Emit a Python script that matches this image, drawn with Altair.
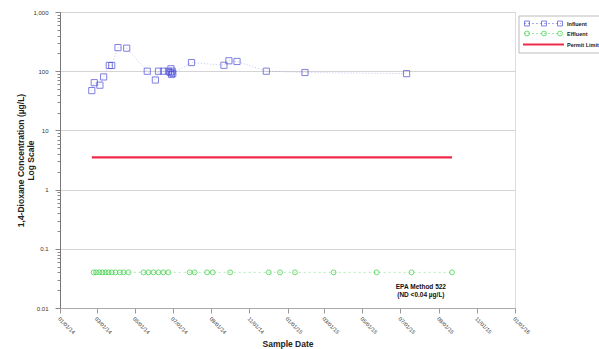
import altair as alt
import pandas as pd

# Influent 1,4-dioxane results (ug/L)
influent_dates = [
    "2014-02-21", "2014-02-25", "2014-03-06", "2014-03-12", "2014-03-21",
    "2014-03-25", "2014-04-04", "2014-04-18", "2014-05-21", "2014-06-03",
    "2014-06-08", "2014-06-16", "2014-06-24", "2014-06-27", "2014-06-28",
    "2014-06-29", "2014-06-30", "2014-07-01", "2014-07-31", "2014-09-21",
    "2014-09-29", "2014-10-12", "2014-11-28", "2015-01-29", "2015-07-11",
]
influent_values = [
    47, 64, 58, 80, 125,
    125, 250, 245, 100, 71,
    100, 100, 100, 95, 110,
    88, 100, 92, 140, 126,
    150, 146, 100, 95, 91,
]

# Effluent results, all non-detect at the method reporting limit
effluent_dates = [
    "2014-02-24", "2014-02-28", "2014-03-05", "2014-03-10", "2014-03-15",
    "2014-03-20", "2014-03-25", "2014-03-31", "2014-04-07", "2014-04-13",
    "2014-04-21", "2014-05-15", "2014-05-23", "2014-05-31", "2014-06-08",
    "2014-06-16", "2014-06-24", "2014-07-28", "2014-08-05", "2014-08-25",
    "2014-09-03", "2014-10-01", "2014-12-02", "2014-12-20", "2015-01-13",
    "2015-03-16", "2015-05-24", "2015-07-19", "2015-09-22",
]
effluent_values = [0.04] * len(effluent_dates)

# Permit limit over the sampling period
permit_dates = ["2014-02-21", "2015-09-22"]
permit_values = [3.5, 3.5]

# Axis tick positions
x_tick_dates = [
    "2014-01-01", "2014-03-01", "2014-05-01", "2014-07-01", "2014-09-01",
    "2014-11-01", "2015-01-01", "2015-03-01", "2015-05-01", "2015-07-01",
    "2015-09-01", "2015-11-01", "2016-01-01",
]
decades = [0.01, 0.1, 1, 10, 100]
y_ticks = [round(d * m, 4) for d in decades for m in range(1, 10)] + [1000]

# Annotation
note_date = ["2015-08-03"]
note_value = [0.0224]
note_text = ["EPA Method 522\n(ND <0.04 µg/L)"]

BLUE = "#4a4ad8"
GREEN = "#2fcf3a"
RED = "#ee2a4a"
FONT = "Liberation Sans"

inf_df = pd.DataFrame({"date": pd.to_datetime(influent_dates), "value": influent_values})
eff_df = pd.DataFrame({"date": pd.to_datetime(effluent_dates), "value": effluent_values})
lim_df = pd.DataFrame({"date": pd.to_datetime(permit_dates), "value": permit_values})
note_df = pd.DataFrame({"date": pd.to_datetime(note_date), "value": note_value, "t": note_text})

tick_dt = [
    alt.DateTime(year=int(s[:4]), month=int(s[5:7]), date=int(s[8:]))
    for s in x_tick_dates
]

is_decade = "abs(log(datum.value)/LN10 - round(log(datum.value)/LN10)) < 0.001"

x_enc = alt.X(
    "date:T",
    scale=alt.Scale(domain=[tick_dt[0], tick_dt[-1]]),
    axis=alt.Axis(
        values=tick_dt,
        format="%m/%d/%y",
        labelAngle=45,
        labelAlign="left",
        labelBaseline="top",
        labelFontSize=5.5,
        labelColor="#333",
        labelPadding=3,
        tickSize=5,
        tickColor="#999",
        domainColor="#aaa",
        grid=False,
        title="Sample Date",
        titleFontSize=8.5,
        titleFontWeight="bold",
        titleColor="#222",
        titlePadding=4,
    ),
)

y_enc = alt.Y(
    "value:Q",
    scale=alt.Scale(type="log", domain=[0.01, 1000], nice=False),
    axis=alt.Axis(
        values=y_ticks,
        labelExpr=f"({is_decade}) ? format(datum.value, ',') : ''",
        labelFontSize=6,
        labelColor="#333",
        labelPadding=7,
        tickSize={"condition": {"test": is_decade, "value": 5}, "value": 3},
        tickColor="#888",
        domainColor="#777",
        gridOpacity={"condition": {"test": is_decade, "value": 1}, "value": 0},
        gridColor="#d4d4d4",
        title=["1,4-Dioxane Concentration (µg/L)", "Log Scale"],
        titleFontSize=8.5,
        titleFontWeight="bold",
        titleColor="#222",
        titlePadding=-3,
    ),
)

inf_line = alt.Chart(inf_df).mark_line(
    color=BLUE, strokeWidth=0.8, strokeDash=[1, 2], opacity=0.4
).encode(x=x_enc, y=y_enc)
inf_pts = alt.Chart(inf_df).mark_point(
    shape="square", filled=False, color=BLUE, size=38, strokeWidth=1
).encode(x=x_enc, y=y_enc)

eff_line = alt.Chart(eff_df).mark_line(
    color=GREEN, strokeWidth=0.8, strokeDash=[2, 3], opacity=0.5
).encode(x=x_enc, y=y_enc)
eff_pts = alt.Chart(eff_df).mark_point(
    shape="circle", filled=False, color=GREEN, size=24, strokeWidth=1
).encode(x=x_enc, y=y_enc)

limit = alt.Chart(lim_df).mark_line(color=RED, strokeWidth=2.2).encode(x=x_enc, y=y_enc)

note = alt.Chart(note_df).mark_text(
    font=FONT, fontSize=6.5, fontWeight="bold", color="#111", lineBreak="\n",
    align="center", baseline="middle", lineHeight=8,
).encode(x=x_enc, y=y_enc, text="t:N")

# Legend box drawn in the upper right corner
one = pd.DataFrame({"k": [0]})
LX, LY0 = 459, 4
rows = [("Influent", BLUE, "square", 11.5), ("Effluent", GREEN, "circle", 21.5),
        ("Permit Limit", RED, None, 32.5)]
legend_layers = [
    alt.Chart(one).mark_rect(fill="white", stroke="#bbb", strokeWidth=1).encode(
        x=alt.value(LX), x2=alt.value(LX + 110), y=alt.value(LY0), y2=alt.value(41)
    )
]
for name, col, shp, ry in rows:
    if shp is None:
        legend_layers.append(
            alt.Chart(one).mark_rule(color=col, strokeWidth=2.2).encode(
                x=alt.value(LX + 4), x2=alt.value(LX + 45), y=alt.value(ry)
            )
        )
    else:
        legend_layers.append(
            alt.Chart(one).mark_rule(color=col, strokeWidth=0.8, strokeDash=[2, 2], opacity=0.6).encode(
                x=alt.value(LX + 5), x2=alt.value(LX + 42), y=alt.value(ry)
            )
        )
        for dx in (8, 25, 41):
            legend_layers.append(
                alt.Chart(one).mark_point(shape=shp, filled=False, color=col, size=24, strokeWidth=1).encode(
                    x=alt.value(LX + dx), y=alt.value(ry)
                )
            )
    legend_layers.append(
        alt.Chart(one).mark_text(font=FONT, fontSize=5.5, fontWeight="bold", color="#222",
                                 align="left", baseline="middle").encode(
            x=alt.value(LX + 48), y=alt.value(ry), text=alt.value(name)
        )
    )

chart = alt.layer(
    inf_line, eff_line, limit, inf_pts, eff_pts, note, *legend_layers
).properties(
    width=455,
    height=296,
    autosize=alt.AutoSizeParams(type="none"),
    padding={"left": 60, "top": 12, "right": 84, "bottom": 41},
    background="white",
).configure_view(
    stroke=None
).configure(
    font=FONT
)

chart.save("out.html", embed_options={"renderer": "svg", "actions": False})
